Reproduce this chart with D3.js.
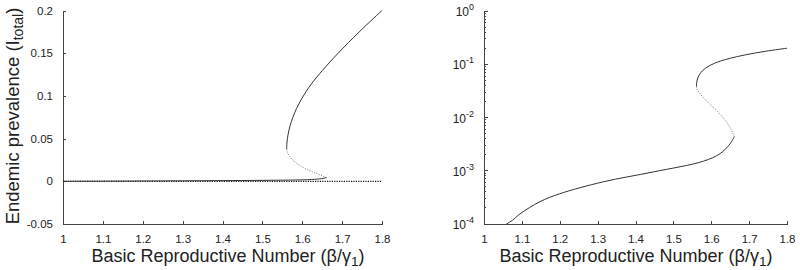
<!DOCTYPE html>
<html>
<head>
<meta charset="utf-8">
<script src="https://cdn.jsdelivr.net/npm/d3@7"></script>
<style>
  body { margin: 0; background: #fff; }
  text { font-family: "Liberation Sans", Arial, sans-serif; fill: #222; }
  .axis path, .axis line { stroke: #444; shape-rendering: crispEdges; }
</style>
</head>
<body>
<div id="chart"></div>
<script>
// bifurcation branches (R0 = beta/gamma1, I = prevalence)
var lowerR0 = [1.0, 1.02, 1.04, 1.06, 1.075, 1.095, 1.148, 1.2, 1.315, 1.447, 1.579, 1.623, 1.649, 1.661];
var lowerI  = [0, 0.000033, 0.000067, 0.0001, 0.000117, 0.000155, 0.000263, 0.00037, 0.00062, 0.00095, 0.00151, 0.00209, 0.00316, 0.0044];

var unstableR0 = [1.661, 1.650, 1.635, 1.615, 1.595, 1.578, 1.567, 1.562, 1.561];
var unstableI  = [0.0044, 0.0064, 0.0092, 0.0132, 0.0182, 0.0242, 0.0300, 0.0350, 0.038];

var upperR0 = [1.561, 1.5615, 1.5645, 1.5695, 1.5765, 1.5855, 1.5965, 1.6095, 1.6245, 1.651, 1.69, 1.743, 1.8];
var upperI  = [0.038, 0.045, 0.055, 0.065, 0.075, 0.085, 0.095, 0.105, 0.115, 0.13, 0.15, 0.175, 0.2];

var dfeR0 = [1, 1.8]; // disease free state
var dfeI  = [0, 0];

var xTicks = [1, 1.1, 1.2, 1.3, 1.4, 1.5, 1.6, 1.7, 1.8];
var xTickLabels = ['1', '1.1', '1.2', '1.3', '1.4', '1.5', '1.6', '1.7', '1.8'];
var yTicks = [-0.05, 0, 0.05, 0.1, 0.15, 0.2];
var yTickLabels = ['-0.05', '0', '0.05', '0.1', '0.15', '0.2'];
var logTicks = [1e-4, 1e-3, 1e-2, 1e-1, 1];
var logExps = ['-4', '-3', '-2', '-1', '0'];

function pts(xs, ys) { return xs.map(function (x, i) { return [x, ys[i]]; }); }

var svg = d3.select('#chart').append('svg')
  .attr('width', 800).attr('height', 270);

var xL = d3.scaleLinear().domain([1, 1.8]).range([63, 382]);
var yL = d3.scaleLinear().domain([-0.05, 0.2]).range([224, 10.5]);
var xR = d3.scaleLinear().domain([1, 1.8]).range([484, 787]);
var yR = d3.scaleLog().domain([1e-4, 1]).range([224, 11]);

// axes, ticks pointing inward
function xAxis(scale) {
  svg.append('g').attr('class', 'axis')
    .attr('transform', 'translate(0,224)')
    .call(d3.axisBottom(scale).tickValues(xTicks).tickSizeInner(-3).tickSizeOuter(0)
      .tickFormat(function (d, i) { return xTickLabels[i]; }))
    .call(function (g) {
      g.selectAll('text').attr('y', 11).attr('dy', '0.71em')
        .style('font-size', '11.5px').style('font-family', 'Liberation Sans, Arial, sans-serif').attr('fill', '#222');
    });
}
xAxis(xL);
xAxis(xR);

svg.append('g').attr('class', 'axis')
  .attr('transform', 'translate(63,0)')
  .call(d3.axisLeft(yL).tickValues(yTicks).tickSizeInner(-3).tickSizeOuter(0)
    .tickFormat(function (d, i) { return yTickLabels[i]; }))
  .call(function (g) {
    g.selectAll('text').attr('x', -10)
      .style('font-size', '11.5px').style('font-family', 'Liberation Sans, Arial, sans-serif').attr('fill', '#222');
  });

// log axis: minor ticks then major ticks with 10^n labels
var minor = [];
logTicks.slice(0, 4).forEach(function (t) {
  for (var k = 2; k <= 9; k++) minor.push(t * k);
});
var gLog = svg.append('g').attr('class', 'axis').attr('transform', 'translate(484,0)');
gLog.append('line').attr('x1', 0).attr('x2', 0).attr('y1', yR(1)).attr('y2', yR(1e-4));
gLog.selectAll('.minor').data(minor).enter().append('line')
  .attr('x1', 0).attr('x2', 2).attr('y1', function (d) { return yR(d); }).attr('y2', function (d) { return yR(d); });
gLog.selectAll('.major').data(logTicks).enter().append('line')
  .attr('x1', 0).attr('x2', 3.5).attr('y1', function (d) { return yR(d); }).attr('y2', function (d) { return yR(d); });
var lbl = gLog.selectAll('.lbl').data(logTicks).enter().append('text')
  .attr('x', -10).attr('y', function (d) { return yR(d) + 5; })
  .attr('text-anchor', 'end').style('font-size', '12px');
lbl.append('tspan').text('10');
lbl.append('tspan').attr('dy', -6).style('font-size', '9px').text(function (d, i) { return logExps[i]; });

// curves
var lineL = d3.line().x(function (d) { return xL(d[0]); }).y(function (d) { return yL(d[1]); }).curve(d3.curveCatmullRom);
var lineR = d3.line().x(function (d) { return xR(d[0]); }).y(function (d) { return yR(d[1]); }).curve(d3.curveCatmullRom);

svg.append('clipPath').attr('id', 'clipR').append('rect')
  .attr('x', 484).attr('y', 11).attr('width', 303).attr('height', 213);

var gL = svg.append('g');
gL.append('path').datum(pts(dfeR0, dfeI)).attr('d', lineL)
  .attr('fill', 'none').attr('stroke', '#111').attr('stroke-width', 1.2).attr('stroke-dasharray', '1.2,1.2');
gL.append('path').datum(pts(lowerR0, lowerI)).attr('d', lineL)
  .attr('fill', 'none').attr('stroke', '#333').attr('stroke-width', 1);
gL.append('path').datum(pts(unstableR0, unstableI)).attr('d', lineL)
  .attr('fill', 'none').attr('stroke', '#777').attr('stroke-width', 1).attr('stroke-dasharray', '1,1.5');
gL.append('path').datum(pts(upperR0, upperI)).attr('d', lineL)
  .attr('fill', 'none').attr('stroke', '#333').attr('stroke-width', 1);

var gR = svg.append('g').attr('clip-path', 'url(#clipR)');
gR.append('path').datum(pts(lowerR0, lowerI).filter(function (d) { return d[1] > 0; })).attr('d', lineR)
  .attr('fill', 'none').attr('stroke', '#333').attr('stroke-width', 1);
gR.append('path').datum(pts(unstableR0, unstableI)).attr('d', lineR)
  .attr('fill', 'none').attr('stroke', '#777').attr('stroke-width', 1).attr('stroke-dasharray', '1,1.5');
gR.append('path').datum(pts(upperR0, upperI)).attr('d', lineR)
  .attr('fill', 'none').attr('stroke', '#333').attr('stroke-width', 1);

// axis titles
function xTitle(cx) {
  var t = svg.append('text').attr('x', cx).attr('y', 262).attr('text-anchor', 'middle').style('font-size', '18px');
  t.append('tspan').text('Basic Reproductive Number (\u03b2/\u03b3');
  t.append('tspan').attr('dy', 4).style('font-size', '13.5px').text('1');
  t.append('tspan').attr('dy', -4).text(')');
}
xTitle(228);
xTitle(636);

var yt = svg.append('text').attr('transform', 'translate(19,116) rotate(-90)')
  .attr('text-anchor', 'middle').style('font-size', '18.5px');
yt.append('tspan').text('Endemic prevalence (I');
yt.append('tspan').attr('dy', 4).style('font-size', '14px').text('total');
yt.append('tspan').attr('dy', -4).text(')');
</script>
</body>
</html>
